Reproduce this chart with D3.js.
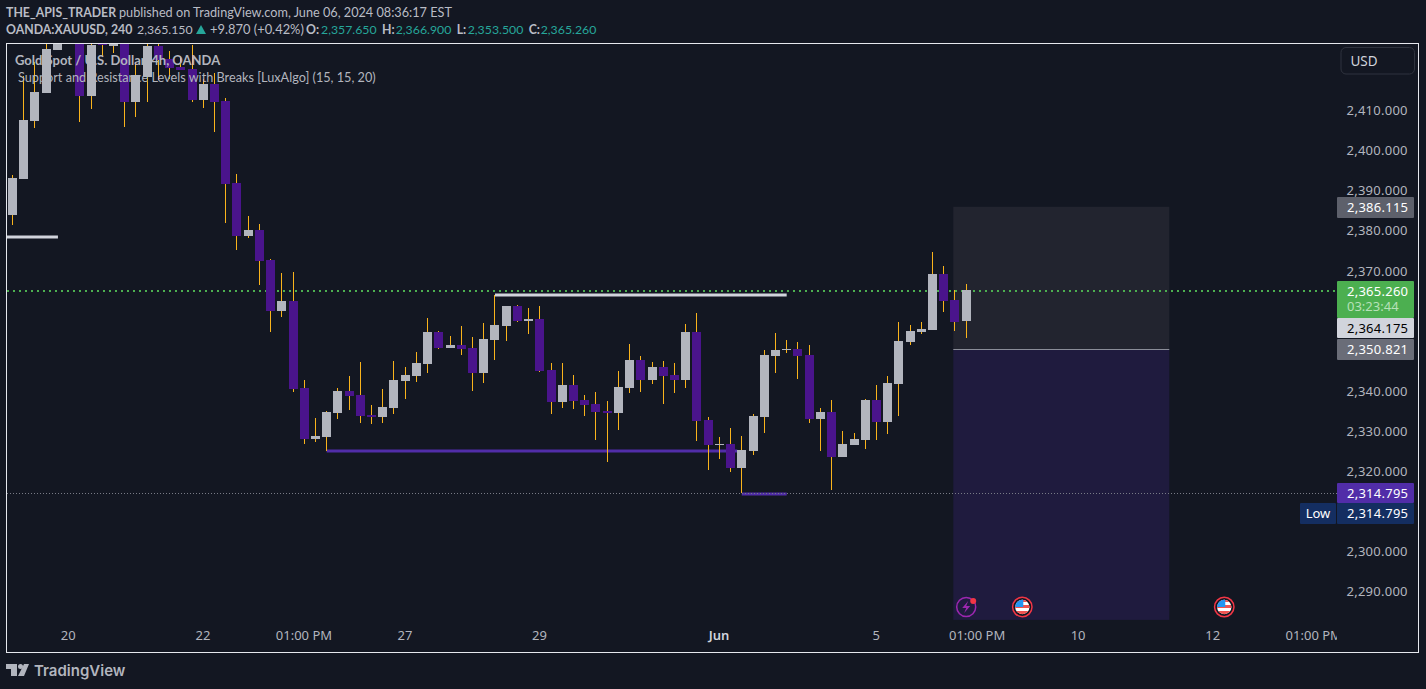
<!DOCTYPE html>
<html><head><meta charset="utf-8">
<script src="https://cdn.jsdelivr.net/npm/d3@7"></script>
<style>
html,body{margin:0;padding:0;background:#131722;overflow:hidden}
text{font-family:"Noto Sans","DejaVu Sans",sans-serif}
.lbl{font-family:Lato,"Noto Sans",sans-serif}
</style></head><body><div id="c"></div>
<script>
const opens=[2384.1,2393.1,2407.5,2414.5,2425.2,2431.0,2435.0,2413.8,2432.0,2426.2,
2432.0,2412.3,2418.5,2426.2,2423.0,2421.0,2420.5,2412.8,2416.8,2412.5,
2392.1,2378.8,2380.3,2372.9,2360.1,2362.6,2340.9,2328.2,2328.7,2334.7,
2340.2,2339.2,2334.2,2333.7,2336.0,2342.7,2343.9,2346.9,2354.9,2350.9,
2351.7,2350.9,2344.7,2352.9,2356.4,2361.4,2357.7,2358.1,2345.4,2337.5,
2341.7,2337.9,2337.0,2335.2,2334.7,2340.9,2347.9,2342.9,2346.2,2344.2,
2342.9,2354.9,2333.0,2326.7,2327.0,2321.0,2325.2,2333.7,2348.9,2350.4,
2350.7,2349.2,2333.2,2335.0,2323.7,2326.7,2328.0,2337.9,2332.5,2341.9,
2352.4,2354.9,2355.4,2369.4,2362.9,2357.65];
const highs=[2394.0,2418.7,2422.2,2427.7,2432.0,2436.0,2437.0,2429.0,2433.0,2434.0,
2435.0,2422.2,2430.0,2430.0,2425.0,2423.7,2426.5,2418.0,2419.5,2413.3,
2394.3,2383.8,2381.8,2373.1,2369.6,2369.9,2342.9,2333.5,2335.2,2340.9,
2343.9,2347.4,2336.7,2340.7,2347.7,2346.2,2349.9,2358.4,2355.2,2353.9,
2356.4,2353.7,2357.2,2364.1,2361.4,2361.6,2360.9,2361.4,2347.2,2347.2,
2344.2,2339.2,2339.9,2337.7,2345.2,2351.9,2348.9,2347.4,2347.7,2347.2,
2356.9,2359.7,2333.7,2328.7,2331.0,2329.0,2334.5,2350.4,2354.7,2352.9,
2352.4,2351.7,2336.0,2337.9,2330.2,2329.7,2338.2,2341.7,2343.9,2357.4,
2356.7,2357.4,2374.9,2371.4,2365.4,2366.9];
const lows=[2381.6,2393.1,2405.8,2414.5,2425.2,2429.0,2407.3,2410.5,2423.5,2424.5,
2406.0,2408.5,2412.3,2417.7,2418.0,2420.2,2412.3,2410.8,2404.8,2382.1,
2375.4,2378.3,2366.6,2354.9,2358.6,2339.9,2327.0,2327.5,2325.2,2333.2,
2335.5,2332.2,2332.0,2332.2,2334.5,2338.2,2342.4,2344.7,2350.7,2350.9,
2349.2,2340.2,2342.2,2347.9,2352.7,2357.4,2354.4,2344.9,2334.5,2336.0,
2335.7,2334.0,2328.0,2322.5,2330.5,2339.7,2339.9,2341.9,2337.0,2339.7,
2340.9,2327.7,2320.5,2323.2,2320.0,2314.8,2324.2,2329.7,2344.7,2349.7,
2343.2,2332.2,2325.2,2315.5,2323.7,2326.7,2325.7,2328.0,2329.5,2334.0,
2351.7,2354.4,2355.4,2359.9,2355.2,2353.5];
const closes=[2393.3,2407.8,2414.8,2425.5,2431.0,2435.0,2413.8,2426.5,2426.5,2432.0,
2412.3,2419.0,2426.2,2422.7,2420.7,2420.2,2412.8,2416.8,2412.3,2391.8,
2378.8,2380.3,2372.6,2360.1,2362.6,2340.7,2328.2,2329.0,2335.0,2340.2,
2338.9,2334.0,2333.7,2336.2,2342.9,2344.2,2347.2,2354.9,2350.9,2351.7,
2350.7,2344.7,2353.2,2356.7,2361.4,2357.7,2358.1,2345.2,2337.5,2341.7,
2337.7,2336.7,2335.0,2334.7,2341.2,2347.9,2342.9,2346.2,2343.9,2342.9,
2354.9,2332.7,2326.7,2327.0,2321.0,2325.5,2334.0,2349.2,2350.4,2350.7,
2348.9,2333.2,2335.0,2323.7,2327.0,2328.2,2337.9,2332.5,2342.2,2352.7,
2355.2,2355.7,2369.4,2362.6,2357.4,2365.26];

const priceTicks=[2410,2400,2390,2380,2370,2340,2330,2320,2300,2290];
const timeIdx=[5,17,26,35,47,63,77,86,95,107,116];
const timeLabels=["20","22","01:00 PM","27","29","Jun","5","01:00 PM","10","12","01:00 PM"];
// horizontal levels: from index, to index, price
const lvlFrom=[-1,43,28,65], lvlTo=[4.05,69,64.6,69], lvlPrice=[2378.6,2364.1,2325.2,2314.6];
const lvlColor=["#d1d4dc","#d1d4dc","#512da8","#512da8"];
const zoneFrom=83.85, zoneTo=103.1, zoneTop=2386.115, zoneMid=2350.6, zoneBottom=2283.1;
const lastPrice=2365.26, lowPrice=2314.795;
const tagPrices=[2386.115,2364.175,2350.821,2314.795];
const eventIdx=[90,108], boltIdx=85;

const W=1426,H=689;
const svg=d3.select("#c").append("svg").attr("width",W).attr("height",H).style("display","block");
const x=d3.scaleLinear().domain([0,85]).range([12.5,966.2]);
const y=d3.scaleLinear().domain([2290,2410]).range([592.2,111]);
const BG="#131722",UP="#b2b5be",DOWN="#4a148c",WICK="#f9b31c";

svg.append("defs").append("clipPath").attr("id","plot").append("rect").attr("x",7).attr("y",44).attr("width",1330).attr("height",608);
svg.select("defs").append("clipPath").attr("id","flag").append("circle").attr("r",7.2);

const plot=svg.append("g").attr("clip-path","url(#plot)");
// zones
plot.append("rect").attr("x",x(zoneFrom)).attr("width",x(zoneTo)-x(zoneFrom)).attr("y",y(zoneTop)).attr("height",y(zoneMid)-y(zoneTop)).attr("fill","#22242f");
plot.append("rect").attr("x",x(zoneFrom)).attr("width",x(zoneTo)-x(zoneFrom)).attr("y",y(zoneMid)).attr("height",y(zoneBottom)-y(zoneMid)).attr("fill","#1f1b3e");
plot.append("rect").attr("x",x(zoneFrom)).attr("width",x(zoneTo)-x(zoneFrom)).attr("y",Math.round(y(zoneMid))).attr("height",1).attr("fill","#8a8d98");
// levels
lvlPrice.forEach((p,i)=>{
  plot.append("rect").attr("x",x(lvlFrom[i])).attr("width",x(lvlTo[i])-x(lvlFrom[i])).attr("y",Math.round(y(p))-1.5).attr("height",3).attr("fill",lvlColor[i]);
});
// price lines
plot.append("line").attr("x1",7).attr("x2",1337).attr("y1",Math.round(y(lastPrice))+1).attr("y2",Math.round(y(lastPrice))+1)
 .attr("stroke","#4caf50").attr("stroke-dasharray","2 4").attr("stroke-width",2);
plot.append("line").attr("x1",7).attr("x2",1337).attr("y1",Math.round(y(lowPrice))+.5).attr("y2",Math.round(y(lowPrice))+.5)
 .attr("stroke","#787b86").attr("stroke-dasharray","1 2");
// candles
const idx=d3.range(opens.length);
const cg=plot.append("g");
cg.selectAll("rect.w").data(idx).join("rect").attr("class","w")
 .attr("x",i=>Math.floor(x(i))).attr("width",1)
 .attr("y",i=>Math.round(y(highs[i]))).attr("height",i=>Math.round(y(lows[i]))-Math.round(y(highs[i])))
 .attr("fill",WICK);
cg.selectAll("rect.b").data(idx).join("rect").attr("class","b")
 .attr("x",i=>Math.floor(x(i))-4).attr("width",9)
 .attr("y",i=>Math.round(y(Math.max(opens[i],closes[i]))))
 .attr("height",i=>Math.max(1,Math.round(y(Math.min(opens[i],closes[i])))-Math.round(y(Math.max(opens[i],closes[i])))))
 .attr("fill",i=>closes[i]>=opens[i]?UP:DOWN);

// price axis
const yAxis=d3.axisRight(y).tickValues(priceTicks).tickSize(0).tickPadding(0).tickFormat(d3.format(",.3f"));
const ya=svg.append("g").attr("transform","translate(1346.5,-1)").call(yAxis);
ya.select(".domain").remove();
ya.selectAll("text").attr("fill","#b2b5be").style("font-size","13px").style("letter-spacing","0.25px").style("font-family",'"Noto Sans",sans-serif').attr("x",0).attr("dy","0.36em");

// time axis
const xAxis=d3.axisBottom(x).tickValues(timeIdx).tickSize(0).tickPadding(0).tickFormat((d,i)=>timeLabels[i]);
svg.select("defs").append("clipPath").attr("id","tc").append("rect").attr("x",7).attr("y",620).attr("width",1330).attr("height",32);
const xa=svg.append("g").attr("clip-path","url(#tc)").append("g").attr("transform","translate(-0.8,630.5)").call(xAxis);
xa.select(".domain").remove();
xa.selectAll("text").attr("fill","#b2b5be").style("font-size","13px").style("font-family",'"Noto Sans",sans-serif').attr("dy","0.71em");
xa.selectAll("text").filter((d,i)=>timeLabels[i]==="Jun").style("font-weight",600).attr("fill","#d1d4dc");

// frame
svg.append("rect").attr("x",6.5).attr("y",43.5).attr("width",1412).attr("height",609).attr("fill","none").attr("stroke","#e6e8ee").attr("stroke-width",1);

// tags
function tag(y0,h,fill,txt,col){
  svg.append("rect").attr("x",1337).attr("y",y0).attr("width",77).attr("height",h).attr("rx",1).attr("fill",fill);
  svg.append("text").attr("x",1347).attr("y",y0+15).attr("fill",col).style("font-size","13px").style("letter-spacing","0.25px").text(txt);
}
const f3=d3.format(",.3f");
tag(197,21,"#5d606b",f3(tagPrices[0]),"#fff");
tag(281,37,"#4caf50",f3(lastPrice),"#fff");
svg.append("text").attr("x",1347).attr("y",311).attr("fill","#b7e1b9").style("font-size","13px").text("03:23:44");
tag(318,20,"#d1d4dc",f3(tagPrices[1]),"#000");
tag(339,21,"#6a6d78",f3(tagPrices[2]),"#fff");
tag(483,20,"#512da8",f3(tagPrices[3]),"#fff");
tag(503,21,"#142e61",f3(lowPrice),"#fff");
svg.append("rect").attr("x",1300).attr("y",503).attr("width",36).attr("height",21).attr("rx",1).attr("fill","#142e61");
svg.append("text").attr("x",1318).attr("y",518).attr("text-anchor","middle").attr("fill","#fff").style("font-size","13px").text("Low");

// USD button
svg.append("rect").attr("x",1341).attr("y",47.5).attr("width",73.5).attr("height",26.5).attr("rx",5).attr("fill",BG).attr("stroke","#2f333e");
svg.append("text").attr("x",1350.5).attr("y",66).attr("fill","#d1d4dc").style("font-size","13.5px").text("USD");

// chart legend
svg.append("text").attr("class","lbl").attr("x",15).attr("y",65).attr("fill","#b2b5be").style("font-size","13px").style("font-weight",700).text("Gold Spot / U.S. Dollar, 4h, OANDA");
svg.append("text").attr("class","lbl").attr("x",18).attr("y",82).attr("fill","#b2b5be").style("font-size","12.7px").text("Support and Resistance Levels with Breaks [LuxAlgo] (15, 15, 20)");

// header
const HC="#b9bcc5",TEAL="#26a69a";
function ht(xp,yp,t,c,b,s){svg.append("text").attr("class","lbl").attr("x",xp).attr("y",yp).attr("fill",c||HC).style("font-size",(s||12.7)+"px").style("font-weight",b?700:400).text(t);}
ht(6,17,"THE_APIS_TRADER",HC,1,12.3);
ht(119,17,"published on TradingView.com, June 06, 2024 08:36:17 EST");
ht(6,34,"OANDA:XAUUSD, 240",HC,1,12.3);
ht(137,34,"2,365.150",HC,0,12.3);
svg.append("path").attr("d","M196 34L201 25L206 34Z").attr("fill",TEAL);
ht(210,34,"+9.870 (+0.42%)",HC,0,12.9);
ht(306,34,"O:",HC,1,12.3); ht(321,34,"2,357.650",TEAL,0,12.3);
ht(382,34,"H:",HC,1,12.3); ht(395.7,34,"2,366.900",TEAL,0,12.3);
ht(456.7,34,"L:",HC,1,12.3); ht(467.7,34,"2,353.500",TEAL,0,12.3);
ht(528.7,34,"C:",HC,1,12.3); ht(540.7,34,"2,365.260",TEAL,0,12.3);

// events
const evY=607;
const bolt=svg.append("g").attr("transform",`translate(${x(boltIdx)},${evY})`);
bolt.append("circle").attr("r",9.5).attr("fill","none").attr("stroke","#9c27b0").attr("stroke-width",1.5);
bolt.append("path").attr("d","M2 -6L-4 1H0L-2 6L4 -1H0Z").attr("fill","#9c27b0");
bolt.append("circle").attr("cx",7).attr("cy",-6).attr("r",3).attr("fill","#f23645");
eventIdx.forEach(i=>{
  const g=svg.append("g").attr("transform",`translate(${x(i)},${evY})`);
  g.append("circle").attr("r",9.7).attr("fill",BG).attr("stroke","#f23645").attr("stroke-width",1.5);
  const f=g.append("g").attr("clip-path","url(#flag)");
  f.append("rect").attr("x",-8).attr("y",-8).attr("width",16).attr("height",16).attr("fill","#fff");
  f.append("rect").attr("x",-8).attr("y",-8).attr("width",16).attr("height",3).attr("fill","#ef5350");
  f.append("rect").attr("x",-8).attr("y",-2).attr("width",16).attr("height",3).attr("fill","#ef5350");
  f.append("rect").attr("x",-8).attr("y",4).attr("width",16).attr("height",3).attr("fill","#ef5350");
  f.append("rect").attr("x",-8).attr("y",-8).attr("width",9).attr("height",8).attr("fill","#2196f3");
});

// logo
svg.append("path").attr("d","M6 664H17V676H11V669H6ZM24 664L29 664L24 676H18Z").attr("fill","#b2b5be");
svg.append("circle").attr("cx",20.5).attr("cy",666.5).attr("r",2.5).attr("fill","#b2b5be");
svg.append("text").attr("x",34).attr("y",676).attr("fill","#b2b5be").style("font-size","15px").style("font-weight",600).style("font-family","Inter,sans-serif").text("TradingView");
</script></body></html>
